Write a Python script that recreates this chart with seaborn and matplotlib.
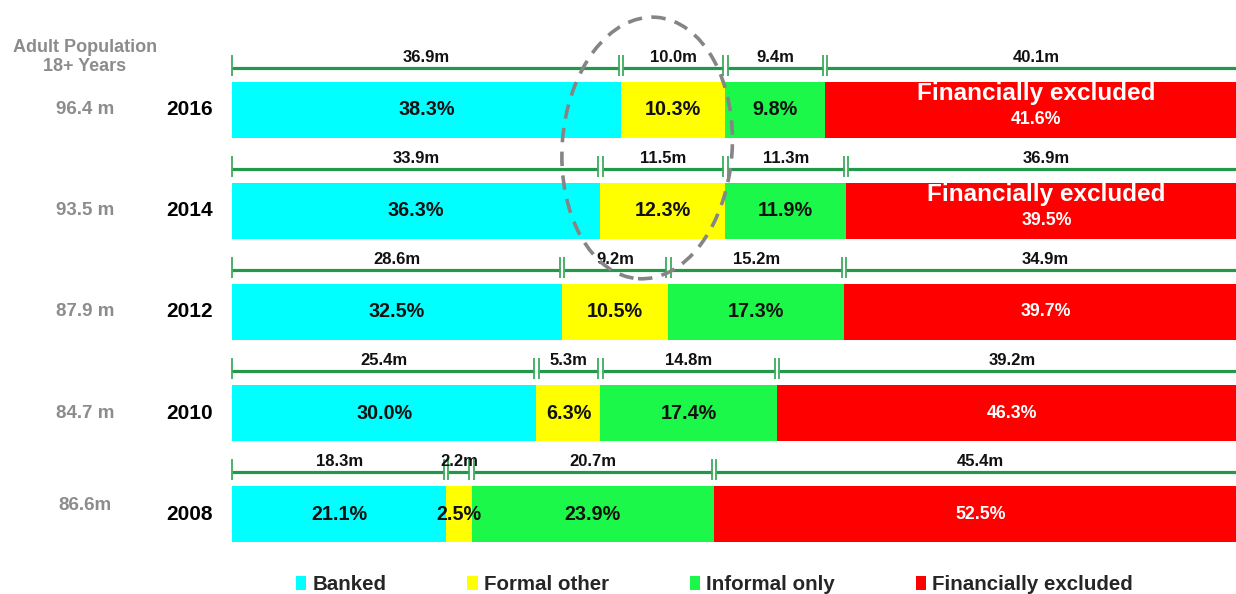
import numpy as np
import pandas as pd
import seaborn as sns
import matplotlib
matplotlib.use("Agg")
import matplotlib.pyplot as plt
from matplotlib.patches import Ellipse, Patch
from matplotlib.transforms import ScaledTranslation

# ---- data -------------------------------------------------------------
years = ["2016", "2014", "2012", "2010", "2008"]
population = ["96.4 m", "93.5 m", "87.9 m", "84.7 m", "86.6m"]

banked = [38.3, 36.3, 32.5, 30.0, 21.1]
formal_other = [10.3, 12.3, 10.5, 6.3, 2.5]
informal_only = [9.8, 11.9, 17.3, 17.4, 23.9]
excluded = [41.6, 39.5, 39.7, 46.3, 52.5]

banked_m = [36.9, 33.9, 28.6, 25.4, 18.3]
formal_m = [10.0, 11.5, 9.2, 5.3, 2.2]
informal_m = [9.4, 11.3, 15.2, 14.8, 20.7]
excluded_m = [40.1, 36.9, 34.9, 39.2, 45.4]

categories = ["Banked", "Formal other", "Informal only", "Financially excluded"]
colors = ["#00FFFF", "#FFFF00", "#1CF84A", "#FF0000"]

# ---- styling ----------------------------------------------------------
sns.set_style("white")
plt.rcParams["font.family"] = ["Liberation Sans", "DejaVu Sans"]
BRACKET = "#22994A"
TICK = "#3DAA5E"
GREY = "#8C8C8C"

shares = np.array([banked, formal_other, informal_only, excluded])
millions = np.array([banked_m, formal_m, informal_m, excluded_m])
cum = np.cumsum(shares, axis=0)

fig = plt.figure(figsize=(12.36, 5.94), dpi=100)
ax = fig.add_axes([0, 0, 1, 1])

# stacked bars: draw the longest cumulative total first, shorter ones on top
for k in range(3, -1, -1):
    df = pd.DataFrame({"year": years, "value": cum[k]})
    sns.barplot(data=df, x="value", y="year", order=years, orient="h",
                color=colors[k], saturation=1, width=0.555, linewidth=0,
                ax=ax)

ax.set_xlim(-22.86, 98.92)
ax.set_ylim(4.792, -1.089)
ax.set_axis_off()

gap = 0.22
for i, yr in enumerate(years):
    edges = np.concatenate([[0], cum[:, i]])
    # bracket lines with value labels in millions
    yl = i - 0.42
    for k in range(4):
        x0 = edges[k] + (gap if k > 0 else 0)
        x1 = edges[k + 1] - gap
        ax.plot([x0, x1], [yl, yl], color=BRACKET, lw=2.3,
                solid_capstyle="butt", zorder=3)
        ax.vlines([x0, x1] if k < 3 else [x0], yl - 0.12, yl + 0.08,
                  color=TICK, lw=1.3, zorder=3)
        ax.text((edges[k] + edges[k + 1]) / 2, yl - 0.03,
                f"{millions[k, i]:.1f}m", ha="center", va="bottom",
                fontsize=12, fontweight="bold", color="#111111")

    # percentage labels inside the bars
    for k in range(3):
        ax.text((edges[k] + edges[k + 1]) / 2, i, f"{shares[k, i]:.1f}%",
                ha="center", va="center", fontsize=14.2, fontweight="bold",
                color="#111111", zorder=4)
    xr = (edges[3] + edges[4]) / 2
    if i < 2:
        ax.text(xr, i - 0.16, "Financially excluded", ha="center",
                va="center", fontsize=17.5, fontweight="bold",
                color="white", zorder=4)
        ax.text(xr, i + 0.09, f"{shares[3, i]:.1f}%", ha="center",
                va="center", fontsize=12.8, fontweight="bold",
                color="white", zorder=4)
    else:
        ax.text(xr, i, f"{shares[3, i]:.1f}%", ha="center", va="center",
                fontsize=12.8, fontweight="bold", color="white", zorder=4)

    # year and population labels on the left
    ax.text(-4.14, i, yr, ha="center", va="center", fontsize=15,
            fontweight="bold", color="black")
    ax.text(-14.5, i - (0.08 if i == 4 else 0), population[i],
            ha="center", va="center", fontsize=13.5, fontweight="bold",
            color=GREY)

ax.text(-14.5, -0.52, "Adult Population\n18+ Years", ha="center",
        va="center", fontsize=13, fontweight="bold", color=GREY,
        linespacing=1.15)

# dashed ring around the formal-other segments of the two latest surveys
ring_t = fig.dpi_scale_trans + ScaledTranslation(40.9, 0.376, ax.transData)
ax.add_patch(Ellipse((0, 0), 1.70, 2.62, angle=-4, transform=ring_t,
                     fill=False, ec="#858585", lw=2.6,
                     ls=(0, (4, 2.6)), zorder=6))

# legend
handles = [Patch(facecolor=c, edgecolor="none") for c in colors]
fig.legend(handles, categories, loc="center left",
           bbox_to_anchor=(296 / 1236, 1 - 585 / 594), ncol=4,
           frameon=False, borderpad=0, borderaxespad=0,
           handlelength=0.49, handleheight=0.65, handletextpad=0.3,
           columnspacing=3.95,
           prop={"weight": "bold", "size": 14.8})

fig.savefig("out.png", dpi=100)
